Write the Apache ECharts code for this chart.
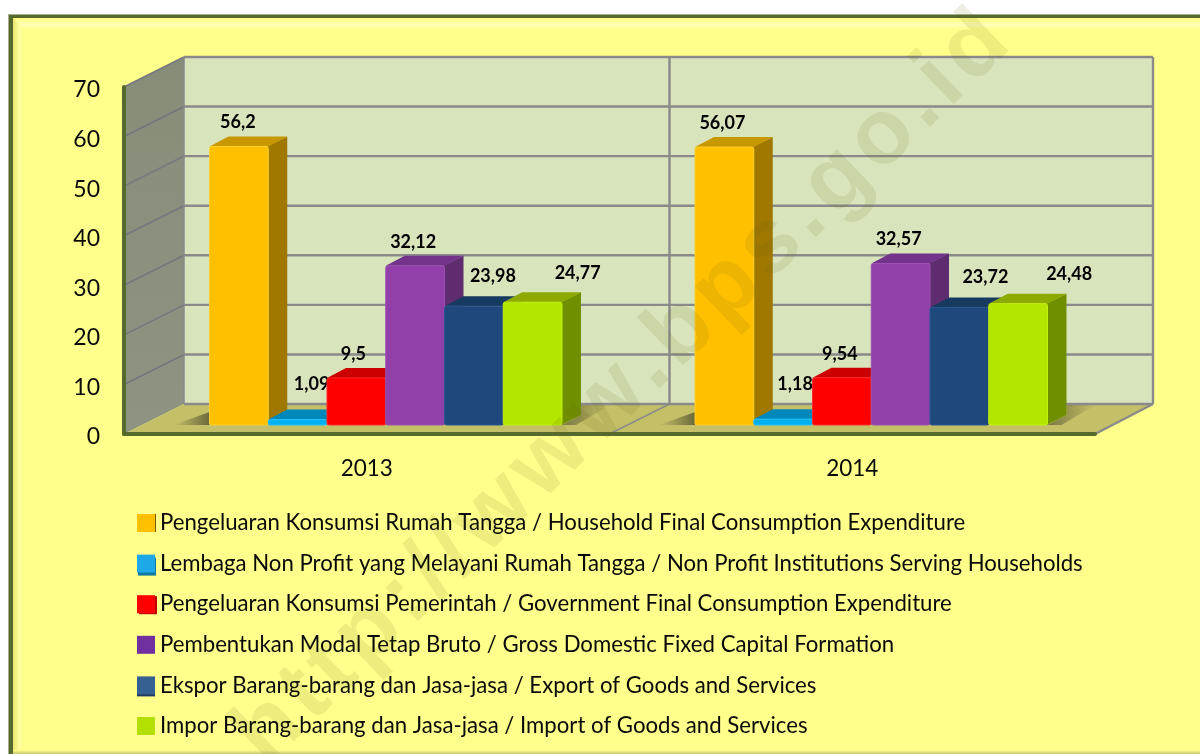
<!DOCTYPE html>
<html><head><meta charset="utf-8">
<style>html,body{margin:0;padding:0;background:#fff}#c{width:1200px;height:754px}</style>
<script src="https://cdn.jsdelivr.net/npm/echarts@6/dist/echarts.min.js"></script>
</head><body><div id="c"></div>
<script>
const years = ['2013','2014'];
const yTicks = [0,10,20,30,40,50,60,70];
const household = [56.2, 56.07];
const nonProfit = [1.09, 1.18];
const government = [9.5, 9.54];
const capital = [32.12, 32.57];
const exportsGS = [23.98, 23.72];
const importsGS = [24.77, 24.48];
const names = [
 'Pengeluaran Konsumsi Rumah Tangga / Household Final Consumption Expenditure',
 'Lembaga Non Profit yang Melayani Rumah Tangga / Non Profit Institutions Serving Households',
 'Pengeluaran Konsumsi Pemerintah / Government Final Consumption Expenditure',
 'Pembentukan Modal Tetap Bruto / Gross Domestic Fixed Capital Formation',
 'Ekspor Barang-barang dan Jasa-jasa / Export of Goods and Services',
 'Impor Barang-barang dan Jasa-jasa / Import of Goods and Services'
];
const allValues = [household, nonProfit, government, capital, exportsGS, importsGS];

const faces = [
 {front:'#FFC000',rim:'#FFD030',side:'#A07800',top:'#C89800',legend:'#FFC000',shadow:'#7A5C00',sx:1,sy:0},
 {front:'#00B0F0',rim:'#20C4FF',side:'#0080AE',top:'#0088BA',legend:'#1FA8E8',shadow:'#10789E',sx:1,sy:3},
 {front:'#FF0000',rim:'#FF2A2A',side:'#A00000',top:'#CC0000',legend:'#FF0000',shadow:'#C00000',sx:2,sy:1},
 {front:'#9040A8',rim:'#9C50B4',side:'#5F2C70',top:'#73338A',legend:'#7030A0',shadow:'#7030A0',sx:0,sy:0},
 {front:'#1F497D',rim:'#2A5690',side:'#14304F',top:'#173A60',legend:'#376092',shadow:'#1F3A60',sx:0,sy:2},
 {front:'#B3E600',rim:'#C4F010',side:'#708F00',top:'#8CAA00',legend:'#B3E000',shadow:'#B3E000',sx:0,sy:0}
];
const labelDx = [[-1,14,-3,-2,19,45],[-2,12,-2,-2,26,51]];
const labelDy = [-24,-35,-24,-24,-30,-29];
const WALL_DX = 60, WALL_DY = 30, BAR_DX = 19, BAR_DY = 10, BAR_LIFT = 9, BAR_FRAC = 0.121;
const FONT = 'Lato';
const GRID = '#8A8A8A';

function wallItem(params, api){
  const r = params.coordSys, kids = [];
  const L=r.x, R=r.x+r.width, T=r.y, B=r.y+r.height;
  const poly=(pts,fill)=>({type:'polygon',shape:{points:pts},style:{fill},silent:true});
  const line=(x1,y1,x2,y2,w,c)=>({type:'line',shape:{x1,y1,x2,y2},style:{stroke:c||GRID,lineWidth:w||2.4},silent:true});
  kids.push(poly([[L,T],[L+WALL_DX,T-WALL_DY],[L+WALL_DX,B-WALL_DY],[L,B]],
    new echarts.graphic.LinearGradient(0,0,0,1,[{offset:0,color:'#878D79'},{offset:1,color:'#8E9482'}])));
  kids.push(poly([[L+WALL_DX,T-WALL_DY],[R+WALL_DX-2,T-WALL_DY],[R+WALL_DX-2,B-WALL_DY],[L+WALL_DX,B-WALL_DY]],'#D8E4BC'));
  kids.push(poly([[L,B],[L+WALL_DX,B-WALL_DY],[R+WALL_DX-2,B-WALL_DY],[R,B]],'#C4C068'));
  yTicks.forEach(t=>{
    const y = api.coord([0,t])[1];
    kids.push(line(L+WALL_DX,y-WALL_DY,R+WALL_DX-2,y-WALL_DY, 2.4));
    if(t>0) kids.push(line(L,y,L+WALL_DX,y-WALL_DY,1.6,'#74777C'));
  });
  const mid = (api.coord([0,0])[0]+api.coord([1,0])[0])/2;
  kids.push(line(mid+WALL_DX,T-WALL_DY,mid+WALL_DX,B-WALL_DY));
  kids.push(line(mid,B,mid+WALL_DX,B-WALL_DY,1.8));
  kids.push(line(L+WALL_DX,T-WALL_DY,L+WALL_DX,B-WALL_DY,1.5));
  kids.push(line(R+WALL_DX-2,T-WALL_DY,R+WALL_DX-2,B-WALL_DY));
  kids.push(line(R,B,R+WALL_DX-2,B-WALL_DY));
  // soft floor shadows next to each group of bars
  const band = api.size([1,0])[0], w = band*BAR_FRAC, base = B-BAR_LIFT;
  years.forEach((_,c)=>{
    const cx = api.coord([c,0])[0]+BAR_DX;
    const x0 = cx-3*w, x1 = cx+3*w;
    kids.push(poly([[x0-36,base],[x0,base-13],[x0,base]],
      new echarts.graphic.LinearGradient(0,0,1,0,[{offset:0,color:'rgba(70,70,40,0)'},{offset:1,color:'rgba(70,70,40,.7)'}])));
    kids.push(poly([[x1,base],[x1+BAR_DX,base-BAR_DY],[x1+BAR_DX,base-20],[x1+48,base-20],[x1+14,base]],
      new echarts.graphic.LinearGradient(0,0,1,0,[{offset:0,color:'rgba(70,70,40,.6)'},{offset:1,color:'rgba(70,70,40,0)'}])));
  });
  return {type:'group',children:kids};
}

function barRenderer(si){
  return function(params, api){
    const c = api.value(0), v = api.value(1);
    const p = api.coord([c,v]), p0 = api.coord([c,0]);
    const band = api.size([1,0])[0], w = band*BAR_FRAC;
    const x0 = p0[0]+BAR_DX+(si-3)*w, x1 = x0+w;
    const base = p0[1]-BAR_LIFT, top = p[1]-BAR_LIFT;
    const f = faces[si];
    return {type:'group',children:[
      {type:'polygon',shape:{points:[[x1-1,top],[x1+BAR_DX,top-BAR_DY],[x1+BAR_DX,base-BAR_DY],[x1-1,base]]},style:{fill:f.side},silent:true},
      {type:'polygon',shape:{points:[[x0,top],[x0+BAR_DX,top-BAR_DY],[x1+BAR_DX,top-BAR_DY],[x1,top]]},style:{fill:f.top},silent:true},
      {type:'rect',shape:{x:x0,y:top,width:w,height:base-top,r:2},style:{fill:f.front,stroke:f.rim,lineWidth:1},silent:true},
      {type:'text',silent:true,style:{text:String(v).replace('.',','),x:x0+w/2+labelDx[c][si],y:top+labelDy[si],
        textAlign:'center',textVerticalAlign:'middle',fontFamily:FONT,fontWeight:'bold',fontSize:18,fill:'#000'}}
    ]};
  };
}

const series = [{type:'custom',name:'walls',z:1,silent:true,clip:false,data:[[0,0]],renderItem:wallItem}];
names.forEach((n,i)=>series.push({
  type:'custom',name:n,z:2,silent:true,clip:false,
  itemStyle:{color:faces[i].legend},
  encode:{x:0,y:1},
  data:allValues[i].map((v,c)=>[c,v]),
  renderItem:barRenderer(i)
}));

// frame and watermark
const graphics = [
 {type:'rect',z:0,silent:true,shape:{x:8,y:14,width:1192,height:740},style:{fill:'#A9AE92'}},
 {type:'rect',z:0,silent:true,shape:{x:9,y:15,width:1191,height:739},style:{fill:'#566A2E'}},
 {type:'rect',z:0,silent:true,shape:{x:13,y:18,width:1187,height:736},style:{fill:'#FFFF8C'}},
 {type:'polygon',z:0,silent:true,shape:{points:[[13,18],[1200,18],[1200,29],[24,29]]},
   style:{fill:new echarts.graphic.LinearGradient(0,0,0,1,[{offset:0,color:'#FFFF80'},{offset:.65,color:'#FFFFB8'},{offset:1,color:'#FFFF8C'}])}},
 {type:'polygon',z:0,silent:true,shape:{points:[[13,18],[24,29],[24,745],[13,754]]},
   style:{fill:new echarts.graphic.LinearGradient(0,0,1,0,[{offset:0,color:'#E8E86E'},{offset:.6,color:'#FFFFA0'},{offset:1,color:'#FFFF8C'}])}},
 {type:'rect',z:0,silent:true,shape:{x:13,y:750,width:1187,height:4},
   style:{fill:new echarts.graphic.LinearGradient(0,0,0,1,[{offset:0,color:'#FFFF8C'},{offset:1,color:'#C8C86E'}])}}
];
const wmText = 'http://www.bps.go.id', wmFont = 'bold 92px "Liberation Sans"', wmGap = 7;
const ctx = document.createElement('canvas').getContext('2d');
ctx.font = wmFont;
const wmAngle = 44*Math.PI/180;
let wmPos = 0;
const wmEndX = 975, wmEndY = 48; // centre of the final letter
const wmWidths = [...wmText].map(ch=>ctx.measureText(ch).width);
const wmTotal = wmWidths.reduce((a,b)=>a+b+wmGap,0)-wmGap-wmWidths[wmWidths.length-1]/2;
[...wmText].forEach((ch,i)=>{
  const d = wmPos+wmWidths[i]/2-wmTotal;
  graphics.push({type:'text',z:100,silent:true,rotation:wmAngle,
    x:wmEndX+d*Math.cos(wmAngle),y:wmEndY-d*Math.sin(wmAngle),
    style:{text:ch,font:wmFont,fill:'rgba(95,95,20,0.115)',textAlign:'center',textVerticalAlign:'middle'}});
  wmPos += wmWidths[i]+wmGap;
});

const chart = echarts.init(document.getElementById('c'),null,{renderer:'canvas'});
const cv = chart.getDom().querySelector('canvas');
if(cv){const g=cv.getContext('2d'); try{g.letterSpacing='0.01px';}catch(e){}}
chart.setOption({
  animation:false,
  backgroundColor:'#fff',
  textStyle:{fontFamily:FONT},
  grid:{left:124,top:87,width:971,height:347,containLabel:false},
  xAxis:{type:'category',data:years,z:5,
    axisLine:{lineStyle:{color:'#566A2E',width:4}},axisTick:{show:false},splitLine:{show:false},
    axisLabel:{fontFamily:FONT,fontSize:22.5,color:'#0A0A0A',margin:23}},
  yAxis:{type:'value',min:0,max:70,interval:10,z:5,
    axisLine:{show:true,lineStyle:{color:'#566A2E',width:4}},axisTick:{show:false},splitLine:{show:false},
    axisLabel:{margin:24,formatter:'{v|{value}}',
      rich:{v:{fontFamily:FONT,fontSize:23,color:'#0A0A0A',padding:[6,0,0,0]}}}},
  legend:{orient:'vertical',left:132,top:506,itemWidth:18,itemHeight:18,itemGap:16.6,selectedMode:false,
    icon:'rect',
    textStyle:{fontFamily:FONT,fontSize:22.2,color:'#0A0A0A',lineHeight:24},
    data:names.map((n,i)=>({name:n,itemStyle:{color:faces[i].legend,shadowColor:faces[i].shadow,shadowOffsetX:faces[i].sx,shadowOffsetY:faces[i].sy,shadowBlur:0}}))},
  graphic:{elements:graphics},
  series
});
</script></body></html>
